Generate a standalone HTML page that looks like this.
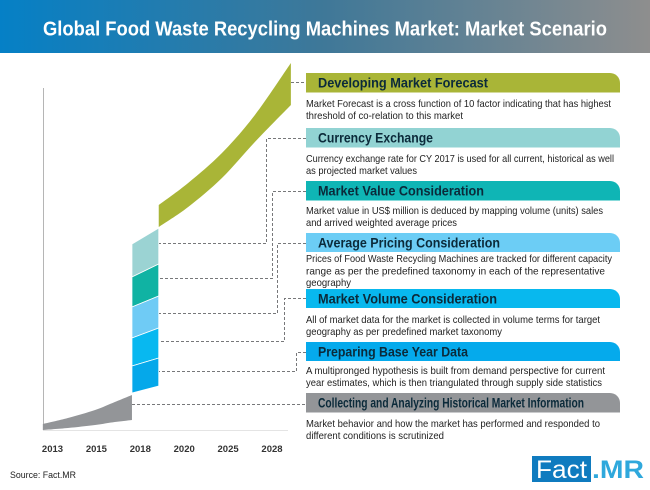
<!DOCTYPE html>
<html lang="en">
<head>
<meta charset="utf-8">
<title>Global Food Waste Recycling Machines Market: Market Scenario</title>
<style>
html,body{margin:0;padding:0;background:#fff}
svg{display:block}
text{font-family:"Liberation Sans",sans-serif}
.h{font-size:14px;font-weight:bold;fill:#0b2a3a}
.d{font-size:10.5px;fill:#222}
.c{fill:none;stroke:#77787a;stroke-width:1;stroke-dasharray:3 2}
</style>
</head>
<body>
<svg id="root" width="650" height="490" viewBox="0 0 650 490" xmlns="http://www.w3.org/2000/svg">
<defs>
<linearGradient id="hg" x1="0" x2="1" y1="0" y2="0"><stop offset="0" stop-color="#0580c6"/><stop offset=".5" stop-color="#3f7898"/><stop offset="1" stop-color="#8e8e8e"/></linearGradient>
</defs>
<rect x="0" y="0" width="650" height="53" fill="url(#hg)"/>
<text x="43" y="35.5" font-size="20.5" font-weight="bold" fill="#fff" textLength="564" lengthAdjust="spacingAndGlyphs">Global Food Waste Recycling Machines Market: Market Scenario</text>

<line x1="43.5" y1="88" x2="43.5" y2="430" stroke="#b5b5b5"/>
<line x1="43" y1="430.5" x2="288" y2="430.5" stroke="#e4e4e4"/>
<g id="marks"></g>
<g id="ticks"></g>

<g>
<path class="c" d="M291 82.5H306"/>
<path class="c" d="M306 138.5H266.5V243.5H159"/>
<path class="c" d="M306 191.5H272.5V278.5H159"/>
<path class="c" d="M306 243.5H277.5V313.5H159"/>
<path class="c" d="M306 298.5H284.5V341.5H161"/>
<path class="c" d="M306 352.5H296.5V371.5H159"/>
<path class="c" d="M132 404.5H306"/>
</g>

<path d="M306 73H610a10 10 0 0 1 10 10V92.5H306Z" fill="#a9b537"/>
<text class="h" x="318" y="87.5" textLength="170" lengthAdjust="spacingAndGlyphs">Developing Market Forecast</text>
<text class="d" x="306" y="107" textLength="305" lengthAdjust="spacingAndGlyphs">Market Forecast is a cross function of 10 factor indicating that has highest</text>
<text class="d" x="306" y="119" textLength="157" lengthAdjust="spacingAndGlyphs">threshold of co-relation to this market</text>

<path d="M306 128H610a10 10 0 0 1 10 10V147.5H306Z" fill="#92d3d3"/>
<text class="h" x="318" y="142.5" textLength="115" lengthAdjust="spacingAndGlyphs">Currency Exchange</text>
<text class="d" x="306" y="162" textLength="308" lengthAdjust="spacingAndGlyphs">Currency exchange rate for CY 2017 is used for all current, historical as well</text>
<text class="d" x="306" y="174" textLength="111" lengthAdjust="spacingAndGlyphs">as projected market values</text>

<path d="M306 181H610a10 10 0 0 1 10 10V200.5H306Z" fill="#0fb5b5"/>
<text class="h" x="318" y="195.5" textLength="166" lengthAdjust="spacingAndGlyphs">Market Value Consideration</text>
<text class="d" x="306" y="214" textLength="297" lengthAdjust="spacingAndGlyphs">Market value in US$ million is deduced by mapping volume (units) sales</text>
<text class="d" x="306" y="226" textLength="151" lengthAdjust="spacingAndGlyphs">and arrived weighted average prices</text>

<path d="M306 233H610a10 10 0 0 1 10 10V252H306Z" fill="#6ccdf5"/>
<text class="h" x="318" y="247.5" textLength="182" lengthAdjust="spacingAndGlyphs">Average Pricing Consideration</text>
<text class="d" x="306" y="262" textLength="306" lengthAdjust="spacingAndGlyphs">Prices of Food Waste Recycling Machines are tracked for different capacity</text>
<text class="d" x="306" y="274.5" textLength="299" lengthAdjust="spacingAndGlyphs">range as per the predefined taxonomy in each of the representative</text>
<text class="d" x="306" y="286" textLength="45" lengthAdjust="spacingAndGlyphs">geography</text>

<path d="M306 289H610a10 10 0 0 1 10 10V308H306Z" fill="#08b8ee"/>
<text class="h" x="318" y="303.5" textLength="179" lengthAdjust="spacingAndGlyphs">Market Volume Consideration</text>
<text class="d" x="306" y="323" textLength="294" lengthAdjust="spacingAndGlyphs">All of market data for the market is collected in volume terms for target</text>
<text class="d" x="306" y="335" textLength="196" lengthAdjust="spacingAndGlyphs">geography as per predefined market taxonomy</text>

<path d="M306 342H610a10 10 0 0 1 10 10V361H306Z" fill="#05aaec"/>
<text class="h" x="318" y="356.5" textLength="150" lengthAdjust="spacingAndGlyphs">Preparing Base Year Data</text>
<text class="d" x="306" y="374" textLength="299" lengthAdjust="spacingAndGlyphs">A multipronged hypothesis is built from demand perspective for current</text>
<text class="d" x="306" y="386" textLength="296" lengthAdjust="spacingAndGlyphs">year estimates, which is then triangulated through supply side statistics</text>

<path d="M306 393H610a10 10 0 0 1 10 10V412.5H306Z" fill="#939598"/>
<text class="h" x="318" y="407.5" font-size="13" textLength="266" lengthAdjust="spacingAndGlyphs" fill="#111">Collecting and Analyzing Historical Market Information</text>
<text class="d" x="306" y="427" textLength="294" lengthAdjust="spacingAndGlyphs">Market behavior and how the market has performed and responded to</text>
<text class="d" x="306" y="439" textLength="138" lengthAdjust="spacingAndGlyphs">different conditions is scrutinized</text>

<text x="10" y="478" font-size="9.5" fill="#222" textLength="66" lengthAdjust="spacingAndGlyphs">Source: Fact.MR</text>

<g>
<rect x="532" y="456" width="59" height="26" fill="#0f7bbf"/>
<text x="536" y="478" font-size="25" fill="#fff" textLength="51" lengthAdjust="spacingAndGlyphs">Fact</text>
<text x="592" y="478" font-size="25" font-weight="bold" fill="#2fa8dc" textLength="52" lengthAdjust="spacingAndGlyphs">.MR</text>
</g>
</svg>
<script>
const tickLabels = ['2013', '2015', '2018', '2020', '2025', '2028'];

const historicalPeriods = [-0.22, 0.35, 0.97, 1.42, 1.81];
const historicalUpper = [6, 12, 20, 28, 35];
const historicalLower = [0, 2, 5, 8, 10];

const stackPeriods = [1.81, 2.42];
const stackEdgesStart = [186, 153, 123, 92, 64, 37];
const stackEdgesEnd = [202, 166, 134, 102, 72, 44];
const stackNames = ['currency', 'value', 'pricing', 'volume', 'base-year'];
const stackColors = ['#9bd3d3', '#10b3a3', '#6fcbf5', '#08b8f0', '#05a8ea'];

const forecastPeriods = [2.42, 3.09, 3.86, 4.61, 5.43];
const forecastUpper = [225, 247, 277, 315, 367];
const forecastLower = [203, 223, 252, 288, 325];

const xAt = t => 52.5 + 43.9 * t;
const yAt = v => 430 - v;
const NS = 'http://www.w3.org/2000/svg';
const marks = document.getElementById('marks');
const ticks = document.getElementById('ticks');

function smoothSegments(pts) {
  let d = '';
  for (let i = 0; i < pts.length - 1; i++) {
    const p0 = pts[Math.max(i - 1, 0)];
    const p1 = pts[i];
    const p2 = pts[i + 1];
    const p3 = pts[Math.min(i + 2, pts.length - 1)];
    d += 'C' + (p1[0] + (p2[0] - p0[0]) / 6) + ' ' + (p1[1] + (p2[1] - p0[1]) / 6) + ' ' +
      (p2[0] - (p3[0] - p1[0]) / 6) + ' ' + (p2[1] - (p3[1] - p1[1]) / 6) + ' ' + p2[0] + ' ' + p2[1];
  }
  return d;
}

function bandPath(periods, upper, lower) {
  const top = periods.map((t, i) => [xAt(t), yAt(upper[i])]);
  const bottom = periods.map((t, i) => [xAt(t), yAt(lower[i])]).reverse();
  return 'M' + top[0].join(' ') + smoothSegments(top) + 'L' + bottom[0].join(' ') + smoothSegments(bottom) + 'Z';
}

const historical = document.createElementNS(NS, 'path');
historical.setAttribute('d', bandPath(historicalPeriods, historicalUpper, historicalLower));
historical.setAttribute('fill', '#939598');


marks.appendChild(historical);

stackNames.forEach((name, i) => {
  const seg = document.createElementNS(NS, 'path');
  seg.setAttribute('d', bandPath(stackPeriods, [stackEdgesStart[i], stackEdgesEnd[i]], [stackEdgesStart[i + 1], stackEdgesEnd[i + 1]]));
  seg.setAttribute('fill', stackColors[i]);
  seg.setAttribute('stroke', '#fff');
  seg.setAttribute('stroke-width', '0.8');
  
  
  marks.appendChild(seg);
});

const forecast = document.createElementNS(NS, 'path');
forecast.setAttribute('d', bandPath(forecastPeriods, forecastUpper, forecastLower));
forecast.setAttribute('fill', '#a9b537');


marks.appendChild(forecast);

tickLabels.forEach((label, i) => {
  const tick = document.createElementNS(NS, 'text');
  tick.setAttribute('x', xAt(i));
  tick.setAttribute('y', 452);
  tick.setAttribute('text-anchor', 'middle');
  tick.setAttribute('font-size', '9.5');
  tick.setAttribute('font-weight', 'bold');
  tick.setAttribute('fill', '#333');
  
  
  tick.textContent = label;
  ticks.appendChild(tick);
});
</script>
</body>
</html>
